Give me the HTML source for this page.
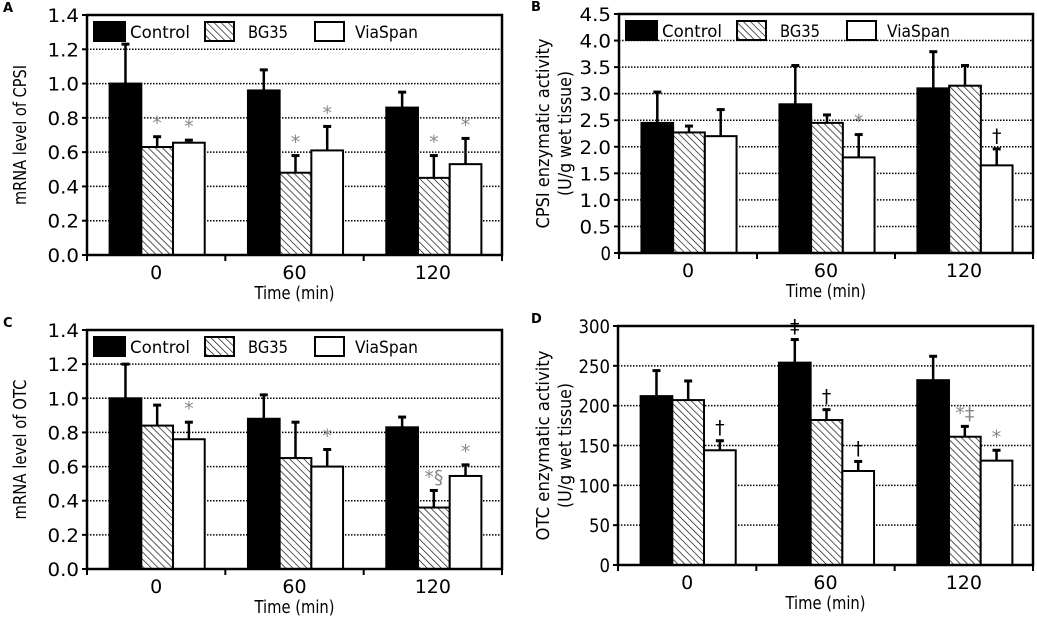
<!DOCTYPE html>
<html><head><meta charset="utf-8"><style>
html,body{margin:0;padding:0;background:#fff;}
svg{display:block;font-family:"DejaVu Sans","Liberation Sans",sans-serif;}
</style></head><body>
<svg id="c" width="1037" height="619" viewBox="0 0 1037 619">
<defs>
<pattern id="hatch" patternUnits="userSpaceOnUse" width="5" height="5" patternTransform="rotate(-45)">
<rect width="5" height="5" fill="#fff"/><line x1="0" y1="0" x2="0" y2="5" stroke="#000" stroke-width="1.3"/>
</pattern>
</defs>
</svg>
<script>
const categories = ["0","60","120"];
const seriesNames = ["Control","BG35","ViaSpan"];
// Panel A
const aControl = [1.0,0.96,0.86], aControlErr = [1.23,1.08,0.95];
const aBG = [0.63,0.48,0.45], aBGErr = [0.69,0.58,0.58];
const aVia = [0.655,0.61,0.53], aViaErr = [0.67,0.75,0.68];
const aMarks = [["","*","*"],["","*","*"],["","*","*"]];
const aTicks = ["0.0","0.2","0.4","0.6","0.8","1.0","1.2","1.4"];
// Panel B
const bControl = [2.45,2.8,3.1], bControlErr = [3.03,3.53,3.79];
const bBG = [2.27,2.45,3.15], bBGErr = [2.39,2.6,3.53];
const bVia = [2.2,1.8,1.65], bViaErr = [2.7,2.23,1.96];
const bMarks = [["","",""],["","","*"],["","","†"]];
const bTicks = ["0","0.5","1.0","1.5","2.0","2.5","3.0","3.5","4.0","4.5"];
// Panel C
const cControl = [1.0,0.88,0.83], cControlErr = [1.2,1.02,0.89];
const cBG = [0.84,0.65,0.36], cBGErr = [0.96,0.86,0.46];
const cVia = [0.76,0.6,0.545], cViaErr = [0.86,0.7,0.61];
const cMarks = [["","","*"],["","","*"],["","*§","*"]];
const cTicks = ["0.0","0.2","0.4","0.6","0.8","1.0","1.2","1.4"];
// Panel D
const dControl = [212,254,232], dControlErr = [244,283,262];
const dBG = [207,182,161], dBGErr = [231,195,174];
const dVia = [144,118,131], dViaErr = [156,130,144];
const dMarks = [["","","†"],["‡","†","†"],["","*‡","*"]];
const dTicks = ["0","50","100","150","200","250","300"];

const svg = document.getElementById('c');
const NS = "http://www.w3.org/2000/svg";
function el(tag, attrs, parent){const e=document.createElementNS(NS,tag);for(const k in attrs)e.setAttribute(k,attrs[k]);(parent||svg).appendChild(e);return e;}

function panel(cfg){
  const g = el('g',{});
  
  
  const {L,R,T,B,max} = cfg;
  const y = v => B - (v/max)*(B-T);
  const gw = (R-L)/categories.length;
  const bw = 31.7;
  const pl = el('text',{x:cfg.letter==='A'||cfg.letter==='C'?3:531,y:T-3,'font-size':13,'font-weight':'bold'},g);
  pl.textContent = cfg.letter;
  
  
  cfg.ticks.forEach((t,i)=>{
    const v = parseFloat(t);
    const yy = y(v);
    if(v>0 && v<max){
      const gl = el('line',{x1:L,x2:R,y1:yy,y2:yy,stroke:'#000','stroke-width':1.5,'stroke-dasharray':'1.5,1.5'},g);
      
      
    }
    el('line',{x1:L-5,x2:L,y1:yy,y2:yy,stroke:'#000','stroke-width':2},g);
    const tl = el('text',{x:L-8,y:yy+7,'text-anchor':'end','font-size':19,'textLength':t.length*10.5,'lengthAdjust':'spacingAndGlyphs'},g);
    tl.textContent = t;
    
    
  });
  const series = [cfg.s[0],cfg.s[1],cfg.s[2]];
  const errs = [cfg.e[0],cfg.e[1],cfg.e[2]];
  const fills = ['#000','url(#hatch)','#fff'];
  categories.forEach((c,ci)=>{
    const x0 = L + ci*gw + (gw - 3*bw)/2 + 1;
    series.forEach((s,si)=>{
      const bx = x0 + si*bw;
      const top = y(s[ci]);
      const ex = bx + bw/2;
      const et = y(errs[si][ci]);
      el('line',{x1:ex,x2:ex,y1:top,y2:et,stroke:'#000','stroke-width':2.5},g);
      el('line',{x1:ex-4,x2:ex+4,y1:et,y2:et,stroke:'#000','stroke-width':3},g);
      const r = el('rect',{x:bx,y:top,width:bw,height:B-top,fill:fills[si],stroke:'#000','stroke-width':2},g);
      
      
      const m = cfg.marks[ci][si];
      if(m){
        const mt = el('text',{x:ex,y:et-7,'text-anchor':'middle','font-size':19,fill:m.indexOf('*')>=0?'#888':'#000'},g);
        mt.textContent = m;
        
        
      }
    });
    const xt = el('text',{x:L+ci*gw+gw/2,y:B+24,'text-anchor':'middle','font-size':19},g);
    xt.textContent = c;
    
    
  });
  el('rect',{x:L,y:T,width:R-L,height:B-T,fill:'none',stroke:'#000','stroke-width':2.5},g);
  for(let i=0;i<=categories.length;i++) el('line',{x1:L+i*gw,x2:L+i*gw,y1:B,y2:B+6,stroke:'#000','stroke-width':2},g);
  const xl = el('text',{x:(L+R)/2,y:B+44,'text-anchor':'middle','font-size':18,'textLength':80,'lengthAdjust':'spacingAndGlyphs'},g);
  xl.textContent = 'Time (min)';
  
  
  const cy = (T+B)/2;
  cfg.ytitle.forEach((line,i)=>{
    const xx = cfg.ytx + i*22;
    const yt = el('text',{x:xx,y:cy,'text-anchor':'middle','font-size':18,transform:`rotate(-90 ${xx} ${cy})`,'textLength':cfg.ylen[i],'lengthAdjust':'spacingAndGlyphs'},g);
    yt.textContent = line;
    
    
  });
  if(cfg.legend){
    const lx = L+7, ly = T+7;
    const offs = [[0,36],[111,154],[221,261]];
    const lens = [60,40,63];
    seriesNames.forEach((n,i)=>{
      const lr = el('rect',{x:lx+offs[i][0],y:ly,width:i===0?31:29,height:19,fill:fills[i],stroke:'#000','stroke-width':2},g);
      
      
      const lt = el('text',{x:lx+offs[i][1],y:ly+16,'font-size':17,'textLength':lens[i],'lengthAdjust':'spacingAndGlyphs'},g);
      lt.textContent = n;
      
      
    });
  }
}
panel({letter:'A',L:87,R:502,T:15,B:255,max:1.4,ticks:aTicks,s:[aControl,aBG,aVia],e:[aControlErr,aBGErr,aViaErr],marks:aMarks,ytitle:['mRNA level of CPSI'],ylen:[140],ytx:26,legend:true});
panel({letter:'B',L:619,R:1033,T:14,B:253,max:4.5,ticks:bTicks,s:[bControl,bBG,bVia],e:[bControlErr,bBGErr,bViaErr],marks:bMarks,ytitle:['CPSI enzymatic activity','(U/g wet tissue)'],ylen:[190,125],ytx:549,legend:true});
panel({letter:'C',L:87,R:502,T:330,B:569,max:1.4,ticks:cTicks,s:[cControl,cBG,cVia],e:[cControlErr,cBGErr,cViaErr],marks:cMarks,ytitle:['mRNA level of OTC'],ylen:[140],ytx:26,legend:true});
panel({letter:'D',L:618,R:1033,T:326,B:565,max:300,ticks:dTicks,s:[dControl,dBG,dVia],e:[dControlErr,dBGErr,dViaErr],marks:dMarks,ytitle:['OTC enzymatic activity','(U/g wet tissue)'],ylen:[190,125],ytx:549,legend:false});
</script>
</body></html>
